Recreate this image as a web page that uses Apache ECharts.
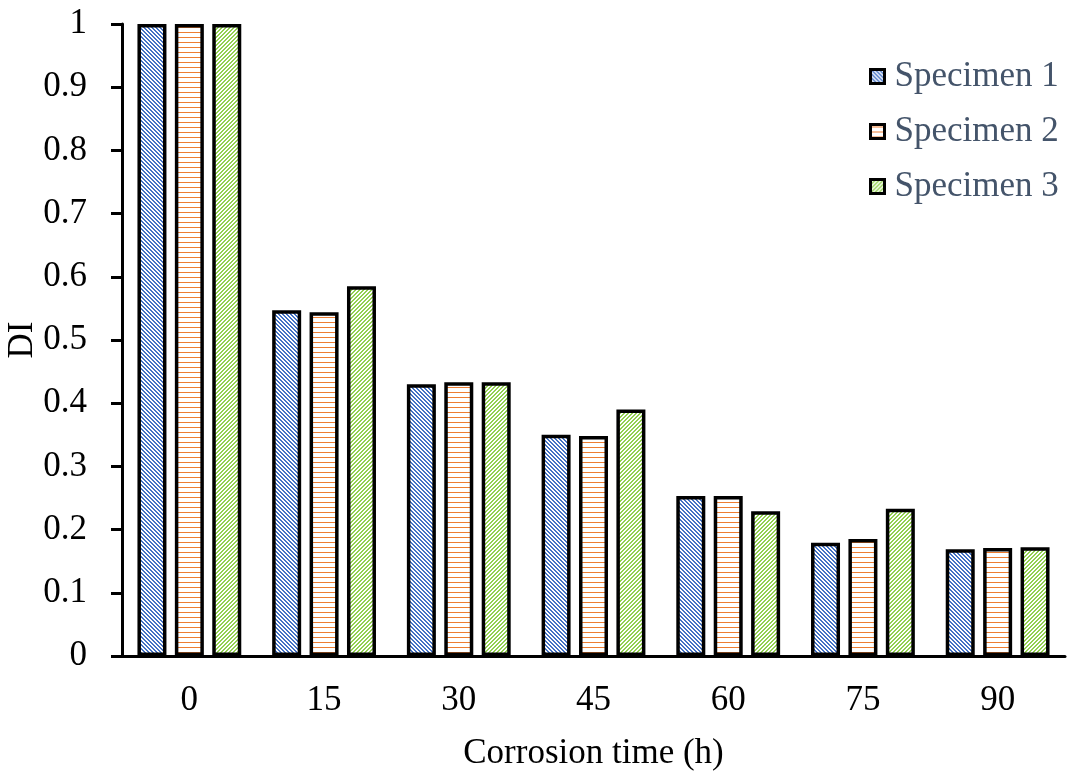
<!DOCTYPE html>
<html>
<head>
<meta charset="utf-8">
<script src="https://cdn.jsdelivr.net/npm/echarts@6/dist/echarts.min.js"></script>
<style>
html,body{margin:0;padding:0;background:#fff;}
#chart{width:1076px;height:779px;}
</style>
</head>
<body>
<div id="chart"></div>
<script>
const categories = ['0', '15', '30', '45', '60', '75', '90'];
const specimen1 = [1, 0.547, 0.430, 0.350, 0.253, 0.179, 0.169];
const specimen2 = [1, 0.544, 0.433, 0.348, 0.253, 0.185, 0.171];
const specimen3 = [1, 0.585, 0.433, 0.390, 0.229, 0.233, 0.172];
const seriesNames = ['Specimen 1', 'Specimen 2', 'Specimen 3'];

function makePattern(size, color, test) {
  const c = document.createElement('canvas');
  c.width = size; c.height = size;
  const ctx = c.getContext('2d');
  ctx.fillStyle = '#ffffff';
  ctx.fillRect(0, 0, size, size);
  ctx.fillStyle = color;
  for (let x = 0; x < size; x++) {
    for (let y = 0; y < size; y++) {
      if (test(x, y)) ctx.fillRect(x, y, 1, 1);
    }
  }
  return { image: c, repeat: 'repeat' };
}
const pat1 = makePattern(4, '#4472C4', (x, y) => ((x - y + 8) % 4) < 2);
const pat2 = makePattern(5, '#ED7D31', (x, y) => y === 2);
const pat3 = makePattern(4, '#92D050', (x, y) => ((x + y) % 4) < 2);

const font = 'Liberation Serif, Times New Roman, serif';
const chart = echarts.init(document.getElementById('chart'));
const barCommon = { type: 'bar', barWidth: 29, barGap: '29%' };
chart.setOption({
  backgroundColor: '#ffffff',
  animation: false,
  grid: { left: 122, right: 11, top: 24, bottom: 123, containLabel: false, outerBoundsMode: 'none' },
  legend: {
    orient: 'vertical',
    left: 864,
    top: 54,
    itemWidth: 14,
    itemHeight: 14,
    itemGap: 20,
    icon: 'rect',
    textStyle: { fontFamily: font, fontSize: 35, color: '#44546A', padding: [0, 0, 0, 5] },
    itemStyle: { borderWidth: 3, borderColor: '#000' },
    data: seriesNames
  },
  xAxis: {
    type: 'category',
    data: categories,
    name: 'Corrosion time (h)',
    nameLocation: 'middle',
    nameGap: 80,
    nameMoveOverlap: false,
    nameTextStyle: { fontFamily: font, fontSize: 35, color: '#000' },
    axisLine: { lineStyle: { color: '#000', width: 3 } },
    axisTick: { show: false },
    axisLabel: { fontFamily: font, fontSize: 35, color: '#000', margin: 27 }
  },
  yAxis: {
    type: 'value',
    min: 0, max: 1, interval: 0.1,
    name: 'DI',
    nameLocation: 'middle',
    nameGap: 82,
    nameMoveOverlap: false,
    nameTextStyle: { fontFamily: font, fontSize: 35, color: '#000' },
    axisLine: { show: true, lineStyle: { color: '#000', width: 3 } },
    axisTick: { show: true, length: 11, lineStyle: { color: '#000', width: 3 } },
    splitLine: { show: false },
    axisLabel: { fontFamily: font, fontSize: 35, color: '#000', margin: 35,
      formatter: v => String(Math.round(v * 10) / 10) }
  },
  series: [
    Object.assign({}, barCommon, { name: seriesNames[0], data: specimen1,
      itemStyle: { color: pat1, borderColor: '#000', borderWidth: 3.5 } }),
    Object.assign({}, barCommon, { name: seriesNames[1], data: specimen2,
      itemStyle: { color: pat2, borderColor: '#000', borderWidth: 3.5 } }),
    Object.assign({}, barCommon, { name: seriesNames[2], data: specimen3,
      itemStyle: { color: pat3, borderColor: '#000', borderWidth: 3.5 } })
  ]
});
</script>
</body>
</html>
